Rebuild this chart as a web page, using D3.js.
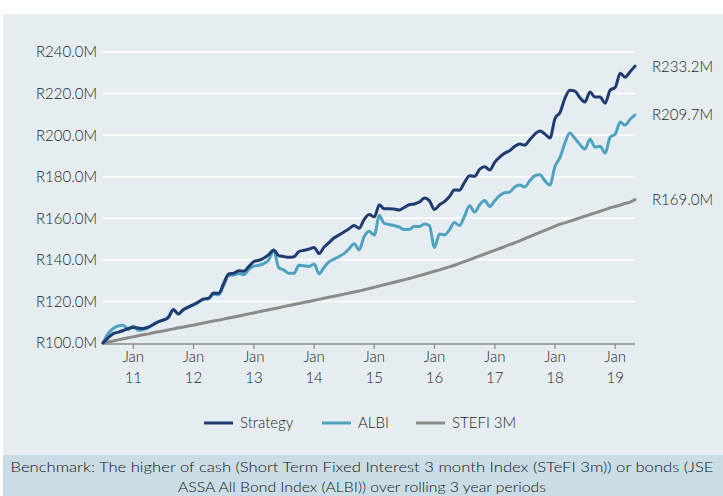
<!DOCTYPE html>
<html>
<head>
<meta charset="utf-8">
<script src="https://cdn.jsdelivr.net/npm/d3@7"></script>
<style>
  html, body { margin: 0; padding: 0; background: #ffffff; }
  svg { display: block; }
  text { font-family: Lato, "Open Sans", sans-serif; fill: #1e1e1e; font-weight: 300; }
  text.foot { font-weight: 300; fill: #111111; }
</style>
</head>
<body>
<svg id="chart" width="723" height="496"></svg>
<script>
// ---- data (monthly, Jul 2010 .. May 2019) ----
const startMonth = "2010-07";
const strategy = [
  100.0, 102.5, 104.5, 105.2, 106.0, 107.0, 107.5, 107.2, 107.0, 107.6,
  108.8, 110.2, 111.0, 112.2, 116.0, 114.0, 116.0, 117.3, 118.5, 119.8,
  121.2, 121.5, 124.0, 123.9, 128.5, 133.2, 133.6, 134.8, 134.5, 136.8,
  139.2, 139.8, 140.8, 142.5, 144.8, 142.0, 141.6, 141.2, 141.5, 144.0,
  144.6, 145.2, 146.0, 143.0, 146.0, 148.3, 150.5, 152.0, 153.4, 155.0,
  156.5, 155.2, 159.5, 161.8, 160.7, 166.5, 164.6, 164.6, 164.5, 164.0,
  165.2, 166.5, 166.9, 167.8, 169.8, 168.5, 164.2, 166.5, 168.0, 170.5,
  173.6, 173.5, 177.3, 180.5, 180.2, 183.6, 184.8, 183.2, 187.0, 189.5,
  191.3, 192.5, 194.5, 195.7, 195.2, 197.8, 200.5, 202.0, 200.5, 198.6,
  208.0, 211.0, 217.5, 221.6, 221.2, 218.0, 215.9, 220.7, 218.3, 218.3,
  215.4, 221.6, 223.0, 229.8, 227.9, 230.5, 233.2
];
const albi = [
  100.0, 104.5, 107.0, 108.2, 108.5, 106.5, 108.2, 106.0, 106.5, 107.3,
  109.0, 110.3, 111.0, 112.5, 116.2, 114.0, 116.2, 117.2, 118.3, 119.7,
  121.0, 121.3, 123.5, 123.2, 127.5, 132.5, 132.7, 133.4, 132.9, 135.4,
  137.0, 137.4, 138.2, 140.0, 144.5, 136.2, 135.2, 133.5, 133.5, 137.4,
  137.2, 136.8, 138.0, 133.3, 136.2, 139.0, 140.3, 141.6, 143.0, 145.2,
  147.8, 144.8, 151.2, 153.8, 151.9, 161.3, 157.6, 157.0, 156.5, 155.8,
  154.6, 154.6, 156.2, 156.0, 157.2, 156.5, 146.0, 152.5, 152.0, 154.5,
  158.0, 156.5, 161.0, 166.0, 163.0, 166.5, 168.5, 165.7, 168.5, 171.0,
  172.3, 172.6, 175.0, 176.0, 175.0, 178.0, 180.5, 181.0, 178.0, 176.0,
  185.0, 189.4, 196.0, 201.0, 198.5, 195.5, 193.3, 198.0, 194.2, 194.7,
  191.3, 199.0, 200.5, 206.3, 204.8, 207.5, 209.7
];
const stefi = [
  100.0, 100.5, 101.0, 101.5, 102.0, 102.5, 103.0, 103.5, 104.0, 104.4,
  104.9, 105.4, 105.8, 106.3, 106.8, 107.3, 107.7, 108.2, 108.6, 109.1,
  109.6, 110.1, 110.6, 111.0, 111.5, 112.0, 112.5, 113.0, 113.5, 114.0,
  114.5, 115.0, 115.5, 116.0, 116.5, 117.0, 117.5, 118.0, 118.5, 119.0,
  119.5, 120.0, 120.5, 121.0, 121.5, 122.0, 122.5, 123.0, 123.5, 124.0,
  124.5, 125.0, 125.6, 126.2, 126.8, 127.4, 128.0, 128.6, 129.2, 129.8,
  130.4, 131.0, 131.7, 132.4, 133.1, 133.8, 134.5, 135.2, 135.9, 136.6,
  137.4, 138.3, 139.2, 140.1, 141.0, 141.9, 142.8, 143.7, 144.6, 145.5,
  146.4, 147.3, 148.2, 149.1, 150.2, 151.2, 152.2, 153.2, 154.2, 155.2,
  156.2, 157.2, 157.8, 158.6, 159.4, 160.2, 161.0, 161.8, 162.6, 163.4,
  164.2, 165.0, 165.7, 166.4, 167.1, 167.8, 169.0
];
const yTicks = [100, 120, 140, 160, 180, 200, 220, 240];
const xTickYears = ["11", "12", "13", "14", "15", "16", "17", "18", "19"];
const seriesNames = ["Strategy", "ALBI", "STEFI 3M"];
const endLabels = ["R233.2M", "R209.7M", "R169.0M"];
const footnote = [
  "Benchmark: The higher of cash (Short Term Fixed Interest 3 month Index (STeFI 3m)) or bonds (JSE",
  "ASSA All Bond Index (ALBI)) over rolling 3 year periods"
];
const footnoteWidths = [703, 368];

// ---- chart ----
const svg = d3.select("#chart");
const W = 723, H = 496;
const colors = ["#1f3b70", "#4ea2c0", "#8a8a8a"];

const parse = d3.timeParse("%Y-%m");
const t0 = parse(startMonth);
const dates = strategy.map((_, i) => d3.timeMonth.offset(t0, i));

const x = d3.scaleTime().domain([dates[0], dates[dates.length - 1]]).range([103, 635]);
const y = d3.scaleLinear().domain([100, 240]).range([343, 52]);

// panel backgrounds
svg.append("rect").attr("x", 3).attr("y", 14).attr("width", W - 3).attr("height", 441).attr("fill", "#e6edf1");
svg.append("rect").attr("x", 3).attr("y", 455).attr("width", W - 3).attr("height", 41).attr("fill", "#cadde6");

// gridlines
svg.append("g").selectAll("line").data(yTicks.filter(d => d > 100)).join("line")
  .attr("x1", 103).attr("x2", 635)
  .attr("y1", d => y(d)).attr("y2", d => y(d))
  .attr("stroke", "#ffffff").attr("stroke-width", 1.5);

// y labels
svg.append("g").selectAll("text").data(yTicks).join("text")
  .attr("x", 97).attr("y", d => y(d)).attr("dy", "0.36em")
  .attr("text-anchor", "end").attr("font-size", 15)
  .text(d => "R" + d3.format(".1f")(d) + "M");

// x axis line + ticks
const jan = xTickYears.map(s => new Date(2000 + (+s), 0, 1));
svg.append("line").attr("x1", 103).attr("x2", 635).attr("y1", y(100) + 1).attr("y2", y(100) + 1)
  .attr("stroke", "#8a8a8a").attr("stroke-width", 1.5);
const xt = svg.append("g").selectAll("g").data(jan).join("g")
  .attr("transform", d => `translate(${x(d)},0)`);
xt.append("line").attr("y1", y(100) + 1).attr("y2", y(100) + 6).attr("stroke", "#8a8a8a").attr("stroke-width", 1.2);
xt.append("text").attr("y", 357).attr("dy", "0.36em").attr("text-anchor", "middle").attr("font-size", 15).text("Jan");
xt.append("text").attr("y", 378).attr("dy", "0.36em").attr("text-anchor", "middle").attr("font-size", 15)
  .text((d, i) => xTickYears[i]);

// lines
const all = [strategy, albi, stefi];
const line = d3.line().x((d, i) => x(dates[i])).y(d => y(d)).curve(d3.curveMonotoneX);
[2, 1, 0].forEach(k => {
  svg.append("path").datum(all[k]).attr("d", line)
    .attr("fill", "none").attr("stroke", colors[k]).attr("stroke-width", 3)
    .attr("stroke-linejoin", "round").attr("stroke-linecap", "round");
});

// end labels
all.forEach((s, k) => {
  svg.append("text").attr("x", 652).attr("y", y(s[s.length - 1])).attr("dy", "0.36em")
    .attr("font-size", 15).text(endLabels[k]);
});

// legend
const legendX = [204, 322, 416];
seriesNames.forEach((n, k) => {
  svg.append("line").attr("x1", legendX[k]).attr("x2", legendX[k] + 29)
    .attr("y1", 423).attr("y2", 423).attr("stroke", colors[k]).attr("stroke-width", 3);
  svg.append("text").attr("x", legendX[k] + 36).attr("y", 423).attr("dy", "0.36em")
    .attr("font-size", 15).text(n);
});

// footnote
footnote.forEach((t, i) => {
  svg.append("text").attr("class", "foot").attr("x", 362).attr("y", 467 + i * 20).attr("dy", "0.36em")
    .attr("text-anchor", "middle").attr("font-size", 14.5)
    .attr("textLength", footnoteWidths[i]).attr("lengthAdjust", "spacingAndGlyphs")
    .text(t);
});
</script>
</body>
</html>
